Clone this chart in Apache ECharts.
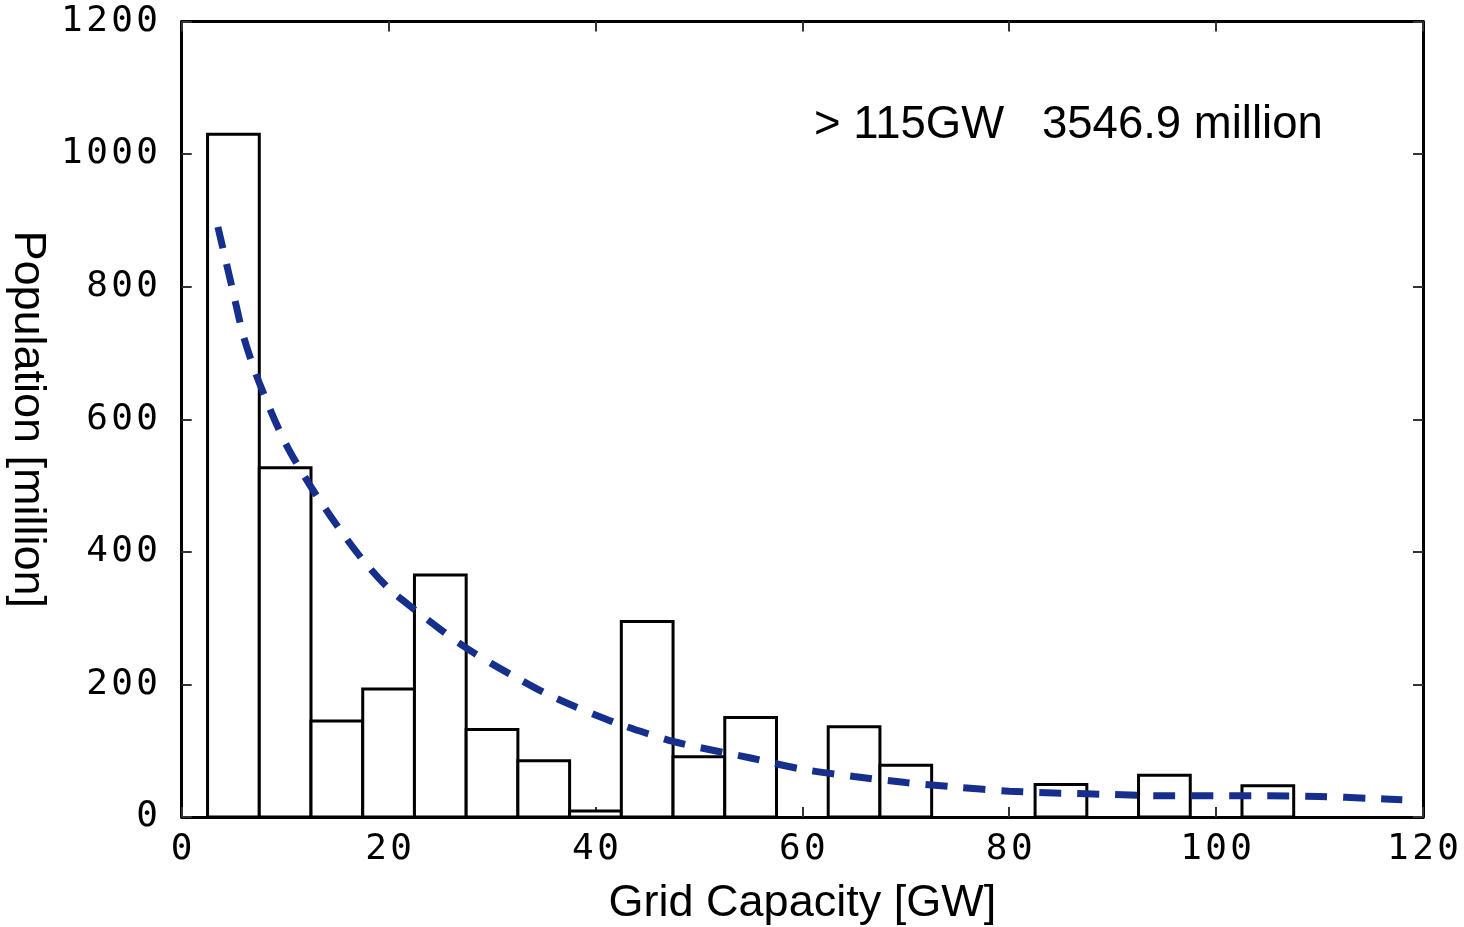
<!DOCTYPE html>
<html>
<head>
<meta charset="utf-8">
<script src="https://cdn.jsdelivr.net/npm/echarts@6/dist/echarts.min.js"></script>
<style>
html,body{margin:0;padding:0;background:#fff;}
#chart{width:1464px;height:927px;}
</style>
</head>
<body>
<div id="chart"></div>
<script>
// Histogram bins (bin centers, GW) and population (million)
const binCenters = [5, 10, 15, 20, 25, 30, 35, 40, 45, 50, 55, 60, 65, 70, 75, 80, 85, 90, 95, 100, 105, 110, 115];
const binValues  = [1030, 527, 145, 193, 365, 132, 85, 9, 295, 91, 150, 0, 136, 78, 0, 0, 49, 0, 63, 0, 47, 0, 0];
const binWidth = 5;

// Fitted curve (dashed)
const fitX = [3.5, 5, 6, 7.5, 10, 12.5, 15, 17.5, 20, 22.5, 25, 27.5, 30, 32.5, 35, 37.5, 40, 42.5, 45, 47.5, 50, 55, 60, 65, 70, 75, 80, 85, 90, 95, 100, 105, 110, 115, 118];
const fitY = [890, 790, 724, 655, 565, 498, 440, 388, 345, 313, 283, 255, 231, 209, 188, 170, 154, 139, 126, 114, 105, 89, 72, 61, 52, 45, 39, 36, 34, 32, 32, 32, 31, 28, 26];

const xTicks = [0, 20, 40, 60, 80, 100, 120];
const yTicks = [0, 200, 400, 600, 800, 1000, 1200];
const annotation = '> 115GW   3546.9 million';

const chart = echarts.init(document.getElementById('chart'));

const spaced = v => String(v).split('').map(c => '{d|' + c + '}').join('');
const digitRich = { d: { fontFamily: 'DejaVu Sans Mono', fontSize: 36, color: '#000', padding: [0, 1.7, 0, 1.7] } };

const barData = binCenters.map((c, i) => [c, binValues[i]]).filter(d => d[1] > 0);
const fitData = fitX.map((x, i) => [x, fitY[i]]);

const axisLineStyle = { color: '#000', width: 3 };
const tickStyle = { show: true, inside: true, length: 10, lineStyle: { color: '#333', width: 2 } };

chart.setOption({
  animation: false,
  backgroundColor: '#fff',
  grid: { left: 181.7, right: 41, top: 21.5, bottom: 110, containLabel: false, outerBoundsMode: 'none' },
  xAxis: [{
    type: 'value', min: 0, max: 120, interval: 20,
    axisLine: { show: true, onZero: false, lineStyle: axisLineStyle },
    axisTick: tickStyle,
    splitLine: { show: false },
    axisLabel: { margin: 15, formatter: spaced, rich: digitRich },
    name: 'Grid Capacity [GW]', nameLocation: 'middle', nameGap: 64,
    nameTextStyle: { fontFamily: 'Liberation Sans', fontSize: 45, color: '#000' }
  }, {
    type: 'value', min: 0, max: 120, interval: 20, position: 'top',
    axisLine: { show: true, onZero: false, lineStyle: axisLineStyle },
    axisTick: tickStyle, axisLabel: { show: false }, splitLine: { show: false }
  }],
  yAxis: [{
    type: 'value', min: 0, max: 1200, interval: 200,
    axisLine: { show: true, onZero: false, lineStyle: axisLineStyle },
    axisTick: tickStyle,
    splitLine: { show: false },
    axisLabel: { margin: 22, formatter: spaced, rich: digitRich },
    name: 'Population [million]', nameLocation: 'middle', nameGap: 128, nameRotate: -90,
    nameTextStyle: { fontFamily: 'Liberation Sans', fontSize: 45, color: '#000' }
  }, {
    type: 'value', min: 0, max: 1200, interval: 200, position: 'right',
    axisLine: { show: true, onZero: false, lineStyle: axisLineStyle },
    axisTick: tickStyle, axisLabel: { show: false }, splitLine: { show: false }
  }],
  graphic: [{
    type: 'text', left: 814, top: 102, silent: true,
    style: { text: annotation, fontFamily: 'Liberation Sans', fontSize: 45.5, fill: '#000' }
  }],
  series: [{
    type: 'custom',
    xAxisIndex: 0, yAxisIndex: 0,
    data: barData,
    renderItem: function (params, api) {
      const c = api.value(0), v = api.value(1);
      const p1 = api.coord([c - binWidth / 2, v]);
      const p2 = api.coord([c + binWidth / 2, 0]);
      return {
        type: 'rect',
        shape: { x: p1[0], y: p1[1], width: p2[0] - p1[0], height: p2[1] - p1[1] },
        style: { fill: '#fff', stroke: '#000', lineWidth: 3 }
      };
    },
    z: 2
  }, {
    type: 'line',
    xAxisIndex: 0, yAxisIndex: 0,
    data: fitData,
    showSymbol: false, symbol: 'none',
    smooth: 0.3,
    lineStyle: { color: '#172f8c', width: 7, type: [22, 16], cap: 'butt' },
    z: 3
  }]
});
</script>
</body>
</html>
